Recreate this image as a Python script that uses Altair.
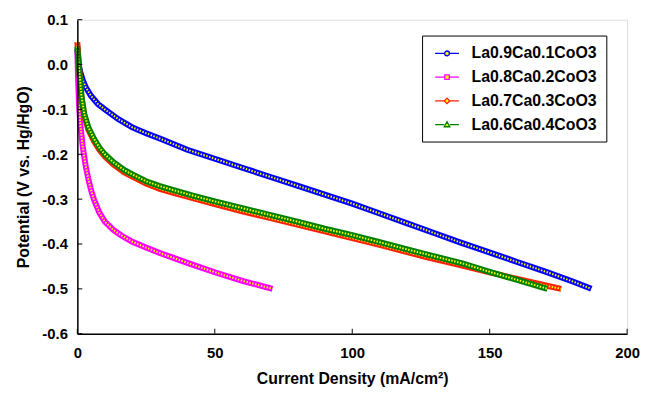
import altair as alt
import pandas as pd

series = ["La0.9Ca0.1CoO3", "La0.8Ca0.2CoO3", "La0.7Ca0.3CoO3", "La0.6Ca0.4CoO3"]
colors = ["#0000FF", "#FF00FF", "#FF2000", "#008000"]

# La0.9Ca0.1CoO3
x1 = [0, 0.5, 1, 2, 3, 5, 7.5, 10, 15, 20, 25, 30, 40, 50, 60, 70, 80, 90, 100,
      110, 120, 130, 140, 152, 160, 170, 180, 187]
y1 = [0.035, 0.0, -0.015, -0.035, -0.05, -0.07, -0.088, -0.1, -0.122, -0.14, -0.153,
      -0.165, -0.19, -0.21, -0.23, -0.25, -0.27, -0.29, -0.31, -0.332, -0.354, -0.376,
      -0.398, -0.423, -0.44, -0.461, -0.483, -0.5]
# La0.8Ca0.2CoO3
x2 = [0, 0.3, 0.7, 1.2, 2, 3, 4, 5, 6, 8, 10, 13, 16, 20, 25, 30, 35, 40, 50, 60, 71]
y2 = [0.03, -0.04, -0.1, -0.14, -0.185, -0.225, -0.255, -0.28, -0.3, -0.33, -0.35,
      -0.368, -0.381, -0.395, -0.408, -0.42, -0.431, -0.442, -0.463, -0.482, -0.5]
# La0.7Ca0.3CoO3
x3 = [0, 0.5, 1, 1.5, 2.5, 4, 6, 8, 10, 13, 17, 20, 25, 30, 35, 42, 50, 60, 70, 80,
      90, 100, 110, 120, 127, 140, 150, 160, 170, 176]
y3 = [0.05, 0.005, -0.035, -0.072, -0.113, -0.145, -0.17, -0.19, -0.205, -0.222,
      -0.24, -0.25, -0.265, -0.277, -0.286, -0.298, -0.311, -0.327, -0.342, -0.357,
      -0.372, -0.387, -0.402, -0.418, -0.429, -0.448, -0.463, -0.478, -0.492, -0.5]
# La0.6Ca0.4CoO3
x4 = [0, 0.5, 1, 1.5, 2.5, 4, 6, 8, 10, 13, 17, 20, 25, 30, 35, 42, 50, 60, 70, 80,
      90, 100, 110, 120, 127, 140, 150, 160, 171]
y4 = [0.04, 0.0, -0.035, -0.07, -0.11, -0.14, -0.165, -0.185, -0.2, -0.217, -0.235,
      -0.245, -0.26, -0.271, -0.28, -0.292, -0.305, -0.32, -0.335, -0.35, -0.366,
      -0.38, -0.396, -0.412, -0.423, -0.443, -0.462, -0.48, -0.5]

x_ticks = [0, 50, 100, 150, 200]
y_ticks = [0.1, 0.0, -0.1, -0.2, -0.3, -0.4, -0.5, -0.6]

# legend symbols: short line with marker (shifted right of the symbol centre)
shapes = [
    "M-0.6,0H0.6M1.2,0H2.4M0.6,0A0.3,0.3,0,1,1,1.2,0A0.3,0.3,0,1,1,0.6,0Z",
    "M-0.6,0H0.62M1.18,0H2.4M0.62,-0.28H1.18V0.28H0.62Z",
    "M-0.6,0H0.55M1.25,0H2.4M0.9,-0.35L1.25,0L0.9,0.35L0.55,0Z",
    "M-0.6,0H0.55M1.25,0H2.4M0.9,-0.38L1.25,0.26L0.55,0.26Z",
]

frames = []
for s, xs, ys in zip(series, [x1, x2, x3, x4], [y1, y2, y3, y4]):
    frames.append(pd.DataFrame({"series": s, "x": xs, "y": ys}))
df = pd.concat(frames, ignore_index=True)

FONT = "Liberation Sans"
W, H = 555, 317

xscale = alt.Scale(domain=[0, 200], nice=False, zero=False, padding=0)
yscale = alt.Scale(domain=[-0.6, 0.1], nice=False, zero=False, padding=0)

xaxis = alt.Axis(values=x_ticks, format="d", tickSize=0, labelPadding=12, labelFlush=False,
                 labelFont=FONT, labelFontSize=15, labelFontWeight="bold", labelColor="black",
                 domainColor="black", domainWidth=1.5, grid=False, zindex=1,
                 title="Current Density (mA/cm²)", titleFont=FONT, titleFontSize=16,
                 titleFontWeight="bold", titleColor="black", titlePadding=10)
yaxis = alt.Axis(values=y_ticks, tickSize=0, labelPadding=10, labelFlush=False,
                 labelExpr="(datum.value < -0.0001 ? '-' : '') + format(abs(datum.value), '.1f')",
                 labelFont=FONT, labelFontSize=15, labelFontWeight="bold", labelColor="black",
                 domainColor="black", domainWidth=1.5, grid=False, zindex=1,
                 title="Potential (V vs. Hg/HgO)", titleFont=FONT, titleFontSize=16,
                 titleFontWeight="bold", titleColor="black", titlePadding=10)

base = alt.Chart(df)
X = alt.X("x:Q", scale=xscale, axis=xaxis)
Y = alt.Y("y:Q", scale=yscale, axis=yaxis)

layers = []
for s, c in zip(series, colors):
    sub = base.transform_filter(alt.datum.series == s)
    layers.append(sub.mark_line(color=c, strokeWidth=6).encode(x=X, y=Y))
    layers.append(sub.mark_line(color="#FFFF00", strokeWidth=2, strokeDash=[1.5, 1.5])
                  .encode(x=X, y=Y))

leg = alt.Legend(title=None, orient="none", legendX=348, legendY=16,
                 strokeColor="black", fillColor="white", padding=9,
                 labelFont=FONT, labelFontSize=16, labelFontWeight="bold", labelColor="black",
                 symbolSize=256, symbolStrokeWidth=1.3, symbolFillColor="#FFFF00",
                 rowPadding=7, labelOffset=23)

legend_layer = base.mark_point(opacity=0, filled=False, fill="#FFFF00").encode(
    x=X, y=Y,
    stroke=alt.Stroke("series:N", scale=alt.Scale(domain=series, range=colors), legend=leg),
    shape=alt.Shape("series:N", scale=alt.Scale(domain=series, range=shapes), legend=leg),
)
layers.append(legend_layer)

ytick_df = pd.DataFrame({"y": y_ticks})
xtick_df = pd.DataFrame({"x": x_ticks})
yt = alt.Chart(ytick_df).mark_rule(color="black", strokeWidth=1).encode(
    y=Y, x=alt.value(0), x2=alt.value(5))
xt = alt.Chart(xtick_df).mark_rule(color="black", strokeWidth=1).encode(
    x=X, y=alt.value(H), y2=alt.value(H - 5))
layers += [yt, xt]

chart = alt.layer(*layers).properties(
    width=W, height=H,
    autosize=alt.AutoSizeParams(type="none"),
    padding={"left": 70, "top": 10, "right": 13, "bottom": 55},
).configure_view(stroke="#888888", strokeWidth=1.5).configure(background="white")

chart.save("out.html", embed_options={"renderer": "svg", "actions": False})
